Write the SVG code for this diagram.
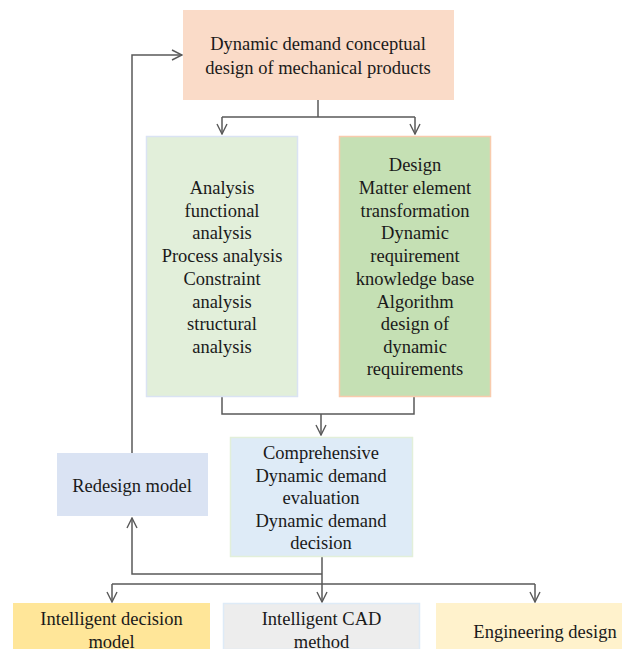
<svg xmlns="http://www.w3.org/2000/svg" width="622" height="649" viewBox="0 0 622 649" font-family="'Liberation Serif', 'Times New Roman', Times, serif">
<style>
text{font-family:'Liberation Serif','Times New Roman',Times,serif;font-size:18.5px;fill:#1a1a1a;text-anchor:middle}
.c{fill:none;stroke:#595959;stroke-width:1.5}
</style>
<defs>
<marker id="a" viewBox="0 0 12 12" refX="11" refY="6" markerWidth="12" markerHeight="12" markerUnits="userSpaceOnUse" orient="auto">
<path d="M1,1 L11,6 L1,11" fill="none" stroke="#595959" stroke-width="1.4"/>
</marker>
</defs>
<rect width="622" height="649" fill="#ffffff"/>
<g id="connectors">
<path class="c" d="M318,100 V117 M222,117 H415"/>
<path class="c" d="M222,117 V134" marker-end="url(#a)"/>
<path class="c" d="M415,117 V134" marker-end="url(#a)"/>
<path class="c" d="M222,397 V414 H414 V397"/>
<path class="c" d="M321,414 V435" marker-end="url(#a)"/>
<path class="c" d="M132,453 V55 H182" marker-end="url(#a)"/>
<path class="c" d="M322,557 V602" marker-end="url(#a)"/>
<path class="c" d="M322,574 H132 V518" marker-end="url(#a)"/>
<path class="c" d="M112,584 H535"/>
<path class="c" d="M112,584 V602" marker-end="url(#a)"/>
<path class="c" d="M535,584 V602" marker-end="url(#a)"/>
</g>
<g id="top">
<rect x="183" y="10" width="271" height="90" fill="#fadbc8"/>
<text x="318" y="50">Dynamic demand conceptual</text>
<text x="318" y="74">design of mechanical products</text>
</g>
<g id="analysis">
<rect x="146.5" y="136.5" width="151" height="260" fill="#e2efda" stroke="#dae3f3" stroke-width="1.5"/>
<text x="222" y="194">Analysis</text>
<text x="222" y="216.5">functional</text>
<text x="222" y="239">analysis</text>
<text x="222" y="262">Process analysis</text>
<text x="222" y="284.5">Constraint</text>
<text x="222" y="307.5">analysis</text>
<text x="222" y="330">structural</text>
<text x="222" y="352.5">analysis</text>
</g>
<g id="design">
<rect x="339.5" y="136.5" width="151" height="260" fill="#c5e0b4" stroke="#f8cbad" stroke-width="1.5"/>
<text x="415" y="171">Design</text>
<text x="415" y="194">Matter element</text>
<text x="415" y="216.5">transformation</text>
<text x="415" y="239">Dynamic</text>
<text x="415" y="262">requirement</text>
<text x="415" y="284.5">knowledge base</text>
<text x="415" y="307.5">Algorithm</text>
<text x="415" y="330">design of</text>
<text x="415" y="352.5">dynamic</text>
<text x="415" y="375">requirements</text>
</g>
<g id="comprehensive">
<rect x="230.5" y="437.5" width="182" height="119" fill="#deebf7" stroke="#e2efda" stroke-width="1.5"/>
<text x="321" y="459">Comprehensive</text>
<text x="321" y="482">Dynamic demand</text>
<text x="321" y="504">evaluation</text>
<text x="321" y="527">Dynamic demand</text>
<text x="321" y="549">decision</text>
</g>
<g id="redesign">
<rect x="57" y="453" width="151" height="63" fill="#dae3f3"/>
<text x="132" y="492">Redesign model</text>
</g>
<g id="decision">
<rect x="13" y="603" width="197" height="46" fill="#ffe699"/>
<text x="111.5" y="625">Intelligent decision</text>
<text x="111.5" y="648">model</text>
</g>
<g id="cad">
<rect x="223.5" y="603.5" width="196" height="46" fill="#ededed" stroke="#deebf7" stroke-width="1.5"/>
<text x="321.5" y="625">Intelligent CAD</text>
<text x="321.5" y="648">method</text>
</g>
<g id="engineering">
<rect x="436" y="603" width="190" height="46" fill="#fff2cc"/>
<text x="545" y="638">Engineering design</text>
</g>
</svg>
